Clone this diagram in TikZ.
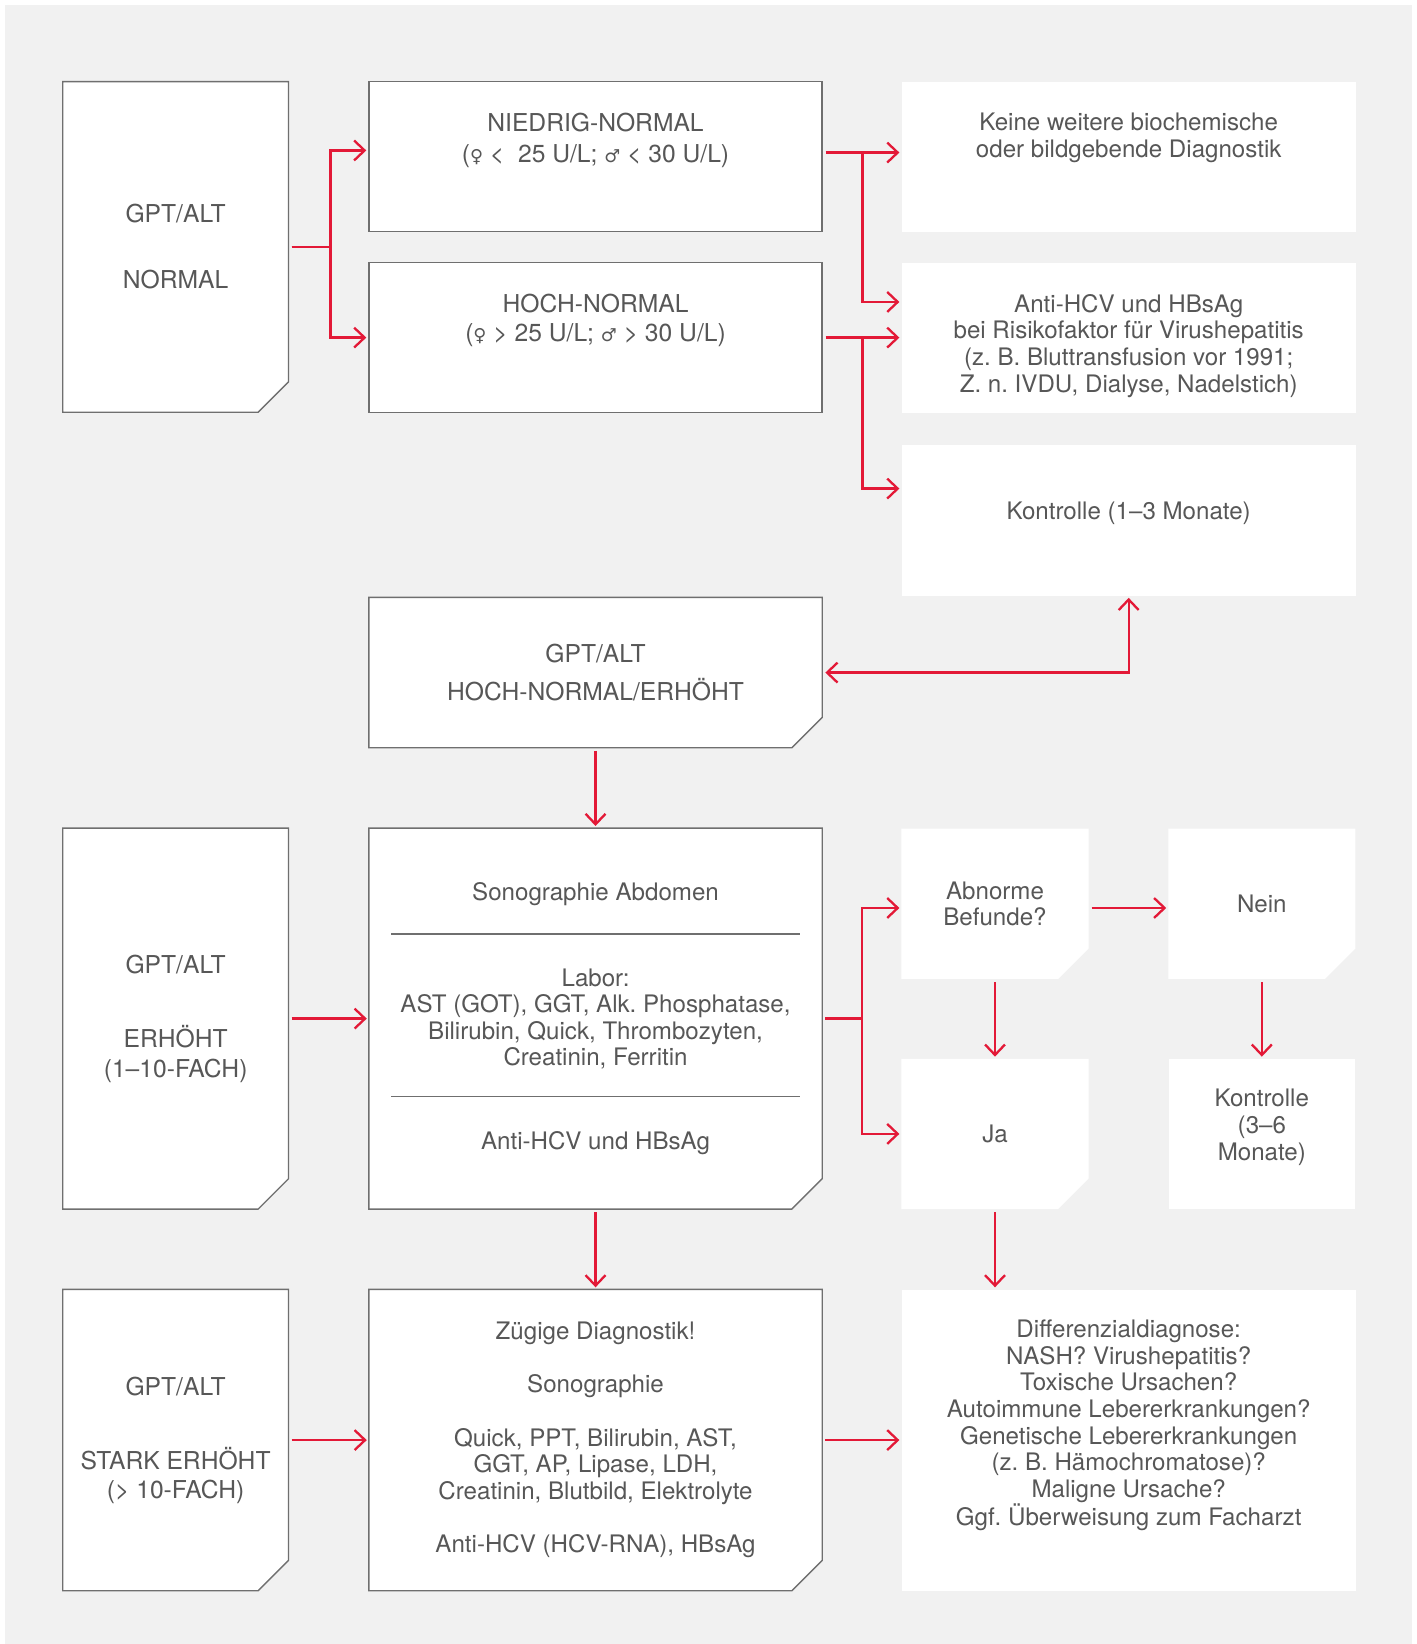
\documentclass[tikz,border=0pt]{standalone}
\usepackage{fontspec}
\setmainfont{TeX Gyre Heros}
\newfontfamily\symbfont{DejaVu Sans}
\usepackage{tikz}
\usetikzlibrary{%
  arrows.meta
 ,calc
 ,backgrounds
}
\definecolor{bggray}{HTML}{F1F1F1}
\definecolor{frame}{HTML}{6F6F6F}
\definecolor{txtgray}{HTML}{575757}
\definecolor{arrred}{HTML}{E31937}
\frenchspacing

\newcommand{\fem}{{\symbfont\fontsize{17}{17}\selectfont ♀}}
\newcommand{\mal}{{\symbfont\fontsize{17}{17}\selectfont ♂}}
\newcommand{\topped}[4][410pt]{\parbox[c][#3][t]{#1}{\centering\vspace*{#2}#4}}

\tikzstyle{diag}=[x=1pt,y=-1pt,font=\fontsize{23}{25.4}\selectfont,text=txtgray,>={Straight Barb[length=10pt,width=19pt]}]
\tikzstyle{bx}=[rectangle,inner sep=0pt,align=center]
\tikzstyle{leftcol}=[bx,minimum width=215pt]
\tikzstyle{midcol}=[bx,minimum width=432pt]
\tikzstyle{rightcol}=[bx,minimum width=433pt]
\tikzstyle{tile}=[bx,minimum width=178pt,minimum height=143pt]
\tikzstyle{outlined}=[draw=frame,line width=1.3pt,fill=white]
\tikzstyle{whitebox}=[fill=white]
\tikzstyle{caps}=[font=\fontsize{23.5}{25.4}\selectfont]
\tikzstyle{arr}=[draw=arrred,line width=2.2pt,->,shorten <=3pt,shorten >=2pt]

\begin{document}
\begin{tikzpicture}[diag]
  \useasboundingbox (0,0) rectangle (1351,1568);
% left column
  \node[leftcol,caps,minimum height=315pt] (gptn)  at (167.5,235.5)  {GPT/ALT\\[37.6pt]NORMAL};
  \node[leftcol,caps,minimum height=363pt] (erh)   at (167.5,971.5)  {GPT/ALT\\[45.6pt]ERHÖHT\\[2.6pt](1–10-FACH)};
  \node[leftcol,caps,minimum height=287pt] (stark) at (167.5,1373.5) {GPT/ALT\\[45.6pt]STARK ERHÖHT\\[1.6pt](> 10-FACH)};
% middle column
  \node[midcol,caps,outlined] (niedrig) at (568,149.5)
    {\topped{30pt}{143pt}{NIEDRIG-NORMAL\\[3.6pt](\fem{} <\ \ 25 U/L; \mal{} < 30 U/L)}};
  \node[midcol,caps,outlined] (hochn) at (568,322)
    {\topped{30pt}{143pt}{HOCH-NORMAL\\[2.6pt](\fem{} > 25 U/L; \mal{} > 30 U/L)}};
  \node[midcol,caps,minimum height=143pt] (hne) at (568,641.5) {GPT/ALT\\[10.6pt]HOCH-NORMAL/ERHÖHT};
  \node[midcol,minimum height=363pt] (sono) at (568,971.5)
    {Sonographie Abdomen\\[7.6pt]\textcolor{frame}{\rule{390pt}{1.3pt}}\\[23.6pt]Labor:\\AST (GOT), GGT, Alk. Phosphatase,\\Bilirubin, Quick, Thrombozyten,\\Creatinin, Ferritin\\[4.6pt]\textcolor{frame}{\rule{390pt}{1.3pt}}\\[24.6pt]Anti-HCV und HBsAg};
  \node[midcol,minimum height=287pt] (zueg) at (568,1373.5)
    {Zügige Diagnostik!\\[25.4pt]Sonographie\\[25.4pt]Quick, PPT, Bilirubin, AST,\\GGT, AP, Lipase, LDH,\\Creatinin, Blutbild, Elektrolyte\\[25.4pt]Anti-HCV (HCV-RNA), HBsAg};
% right column
  \node[rightcol,whitebox] (keine) at (1076.5,149.5)
    {\topped{30pt}{143pt}{Keine weitere biochemische\\oder bildgebende Diagnostik}};
  \node[rightcol,whitebox] (antihcv) at (1076.5,322)
    {\topped{30pt}{143pt}{Anti-HCV und HBsAg\\bei Risikofaktor für Virushepatitis\\(z. B. Bluttransfusion vor 1991;\\Z. n. IVDU, Dialyse, Nadelstich)}};
  \node[rightcol,whitebox] (kontr13) at (1076.5,496)
    {\topped{55pt}{144pt}{Kontrolle (1–3 Monate)}};
  \node[tile] (abn)  at (949,862)    {Abnorme\\Befunde?};
  \node[tile] (nein) at (1203.5,862) {Nein};
  \node[tile] (ja)   at (949,1081.5) {Ja};
  \node[tile,whitebox] (kontr36) at (1203.5,1081.5)
    {\topped[175pt]{29pt}{143pt}{Kontrolle\\(3–6\\Monate)}};
  \node[rightcol,whitebox] (diff) at (1076.5,1373.5)
    {\topped{29pt}{287pt}{Differenzialdiagnose:\\NASH? Virushepatitis?\\Toxische Ursachen?\\Autoimmune Lebererkrankungen?\\Genetische Lebererkrankungen\\(z. B. Hämochromatose)?\\Maligne Ursache?\\Ggf. Überweisung zum Facharzt}};
% background and cut corners
  \begin{scope}[on background layer]
    \fill[bggray] (5,5) rectangle (1347,1568);
    \foreach \n in {gptn,erh,stark,hne,sono,zueg}
      \draw[outlined] (\n.north west) -- (\n.north east) -- ([yshift=29pt]\n.south east)
        -- ([xshift=-29pt]\n.south east) -- (\n.south west) -- cycle;
    \foreach \n in {abn,nein,ja}
      \fill[white] (\n.north west) -- (\n.north east) -- ([yshift=29pt]\n.south east)
        -- ([xshift=-29pt]\n.south east) -- (\n.south west) -- cycle;
  \end{scope}
% connectors
  \draw[arr] (gptn.east) -- ++(40,0) |- ([yshift=6pt]niedrig.west);
  \draw[arr] (gptn.east) -- ++(40,0) |- (hochn.west);
  \draw[arr] ([yshift=4pt]niedrig.east) -- ([yshift=4pt]keine.west);
  \draw[arr] ([yshift=4pt]niedrig.east) -- ++(38,0) |- ([yshift=34pt]antihcv.west);
  \draw[arr] (hochn) -- (antihcv);
  \draw[arr] (hochn.east) -- ++(38,0) |- ([yshift=30pt]kontr13.west);
  \draw[arr,<->] (hne.east) -| (kontr13.south);
  \draw[arr] (hne) -- (sono);
  \draw[arr] (erh) -- (sono);
  \draw[arr] (sono.east) -- ++(38,0) |- ([yshift=-4pt]abn.west);
  \draw[arr] (sono.east) -- ++(38,0) |- (ja.west);
  \draw[arr] ([yshift=-4pt]abn.east) -- ([yshift=-4pt]nein.west);
  \draw[arr] (abn) -- (ja);
  \draw[arr] (nein) -- (kontr36);
  \draw[arr] (sono) -- (zueg);
  \draw[arr] (ja.south) -- (ja.south |- diff.north);
  \draw[arr] (stark) -- (zueg);
  \draw[arr] (zueg) -- (diff);
\end{tikzpicture}
\end{document}
